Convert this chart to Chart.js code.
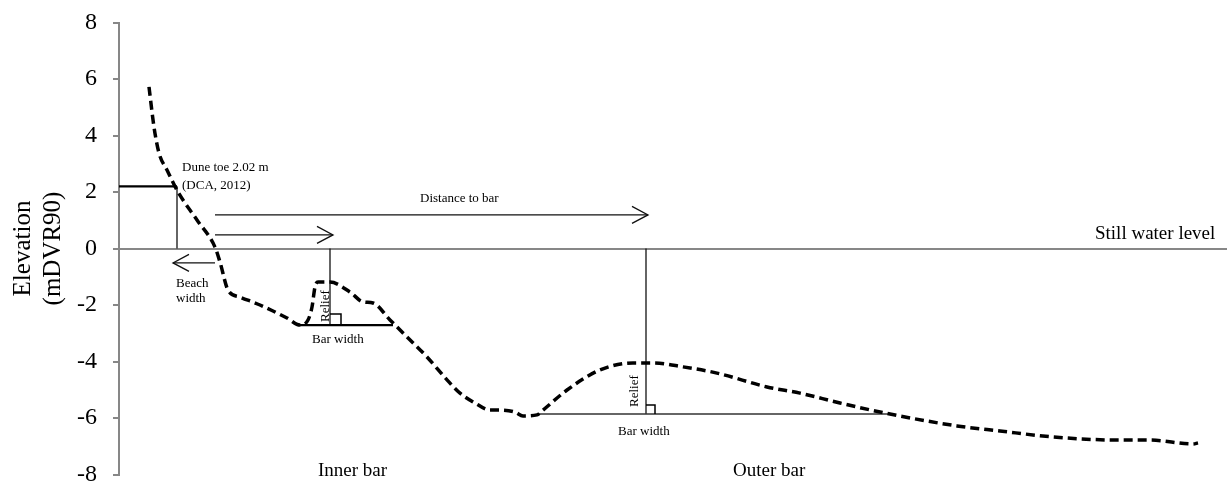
<!DOCTYPE html>
<html>
<head>
<meta charset="utf-8">
<script src="https://cdn.jsdelivr.net/npm/chart.js@4.4.1/dist/chart.umd.min.js"></script>
<style>
  html, body { margin: 0; padding: 0; background: #fff; }
  #wrap { width: 1227px; height: 484px; position: relative; }
</style>
</head>
<body>
<div id="wrap"><canvas id="profile_chart"></canvas></div>
<script>
// cross-shore profile: distance from the axis (m) and bed elevation (m DVR90)
var distance = [30, 35, 40, 48, 59, 78, 96, 101, 109, 121, 141, 168, 181, 189, 193, 196, 199, 211,
                231, 244, 254, 271, 288, 308, 328, 341, 356, 371, 381, 396, 404, 418, 424, 448,
                481, 514, 534, 564, 598, 648, 681, 721, 771, 838, 881, 934, 998, 1031, 1074, 1079];
var elevation = [5.72, 4.30, 3.38, 2.78, 2.00, 1.01, 0.05, -0.48, -1.47, -1.72, -2.00, -2.46, -2.71, -2.53,
                 -2.07, -1.36, -1.19, -1.19, -1.54, -1.89, -1.93, -2.53, -3.13, -3.84, -4.65, -5.12,
                 -5.47, -5.72, -5.72, -5.79, -5.93, -5.89, -5.72, -5.01, -4.30, -4.05, -4.05, -4.19,
                 -4.41, -4.90, -5.12, -5.47, -5.86, -6.28, -6.46, -6.67, -6.78, -6.78, -6.92, -6.88];
var yTicks = [8, 6, 4, 2, 0, -2, -4, -6, -8];

// profile features (same units as the data)
var duneToe = { x: 58, y: 2.2 };
var innerBar = { crest: 211, base: -2.71, from: 181, to: 274, box: 11 };
var outerBar = { crest: 527, base: -5.86, from: 418, to: 771, box: 9 };
var arrows = [
  { from: 96, to: 529, y: 1.19 },
  { from: 96, to: 214, y: 0.48 },
  { from: 96, to: 54, y: -0.51 }
];
var notes = [
  { text: 'Dune toe 2.02 m', x: 63, y: 2.73, size: 13 },
  { text: '(DCA, 2012)', x: 63, y: 2.12, size: 13 },
  { text: 'Distance to bar', x: 301, y: 1.66, size: 13 },
  { text: 'Beach', x: 57, y: -1.35, size: 13 },
  { text: 'width', x: 57, y: -1.88, size: 13 },
  { text: 'Bar width', x: 193, y: -3.33, size: 13 },
  { text: 'Relief', x: 210, y: -2.60, size: 13, rotate: true },
  { text: 'Relief', x: 519, y: -5.61, size: 13, rotate: true },
  { text: 'Bar width', x: 499, y: -6.6, size: 13 },
  { text: 'Still water level', x: 976, y: 0.34, size: 19 },
  { text: 'Inner bar', x: 199, y: -8.04, size: 19 },
  { text: 'Outer bar', x: 614, y: -8.04, size: 19 }
];

var serif = '"Liberation Serif", "Times New Roman", serif';

var annotate = {
  id: 'annotate',
  beforeDatasetsDraw: function (chart) {
    var ctx = chart.ctx, xs = chart.scales.x, ys = chart.scales.y;
    function px(v) { return xs.getPixelForValue(v); }
    function py(v) { return ys.getPixelForValue(v); }
    function seg(x1, y1, x2, y2, w, col) {
      ctx.beginPath();
      ctx.lineWidth = w;
      ctx.strokeStyle = col;
      ctx.moveTo(x1, y1);
      ctx.lineTo(x2, y2);
      ctx.stroke();
    }
    ctx.save();
    ctx.lineCap = 'butt';

    // dune toe
    seg(px(0), py(duneToe.y), px(duneToe.x), py(duneToe.y), 2.3, '#000');
    seg(px(duneToe.x), py(duneToe.y), px(duneToe.x), py(0), 1.3, '#111');

    // bars: relief line, bar width line, right angle mark
    [innerBar, outerBar].forEach(function (b, i) {
      var cx = px(b.crest), by = py(b.base);
      seg(cx, py(0), cx, by, 1.3, '#111');
      seg(px(b.from), by, px(b.to), by, i === 0 ? 2.3 : 1.4, i === 0 ? '#000' : '#333');
      ctx.beginPath();
      ctx.lineWidth = 1.5;
      ctx.strokeStyle = '#000';
      ctx.moveTo(cx, by - b.box);
      ctx.lineTo(cx + b.box, by - b.box);
      ctx.lineTo(cx + b.box, by);
      ctx.stroke();
    });

    // arrows with open heads
    arrows.forEach(function (a) {
      var x1 = px(a.from), x2 = px(a.to), y = py(a.y);
      var dir = x2 > x1 ? 1 : -1;
      seg(x1, y, x2, y, 1.3, '#111');
      ctx.beginPath();
      ctx.lineWidth = 1.3;
      ctx.moveTo(x2 - dir * 16, y - 8.5);
      ctx.lineTo(x2, y);
      ctx.lineTo(x2 - dir * 16, y + 8.5);
      ctx.stroke();
    });
    ctx.restore();
  },
  afterDatasetsDraw: function (chart) {
    var ctx = chart.ctx, xs = chart.scales.x, ys = chart.scales.y;
    ctx.save();
    ctx.fillStyle = '#000';
    ctx.textAlign = 'left';
    ctx.textBaseline = 'alphabetic';
    notes.forEach(function (n) {
      ctx.font = n.size + 'px ' + serif;
      var x = xs.getPixelForValue(n.x), y = ys.getPixelForValue(n.y);
      if (n.rotate) {
        ctx.save();
        ctx.translate(x, y);
        ctx.rotate(-Math.PI / 2);
        ctx.fillText(n.text, 0, 0);
        ctx.restore();
      } else {
        ctx.fillText(n.text, x, y);
      }
    });
    ctx.restore();
  }
};

var c1 = document.getElementById('profile_chart').getContext('2d');

var profile_chart = new Chart(c1, {
  type: 'line',
  data: {
    datasets: [{
      label: 'Profile',
      data: distance.map(function (d, i) { return { x: d, y: elevation[i] }; }),
      borderColor: '#000',
      borderWidth: 3.5,
      borderDash: [9, 5],
      cubicInterpolationMode: 'monotone',
      pointRadius: 0,
      fill: false
    }]
  },
  options: {
    responsive: true,
    maintainAspectRatio: false,
    animation: false,
    layout: { padding: { top: 22.5, bottom: 9.5, left: 0, right: 0 } },
    plugins: {
      legend: { display: false },
      tooltip: { enabled: false }
    },
    scales: {
      x: { type: 'linear', min: 0, max: 1108, display: false },
      y: {
        min: -8,
        max: 8,
        afterBuildTicks: function (s) { s.ticks = yTicks.map(function (v) { return { value: v }; }); },
        afterFit: function (s) { s.width = 119; s.paddingTop = 0; s.paddingBottom = 0; },
        border: { color: '#878787', width: 2 },
        grid: {
          color: function (c) { return c.tick && c.tick.value === 0 ? '#878787' : 'rgba(0,0,0,0)'; },
          lineWidth: 2,
          tickLength: 6,
          tickColor: '#878787',
          tickWidth: 2
        },
        ticks: { padding: 16, color: '#000', font: { family: serif, size: 24 } },
        title: {
          display: true,
          text: ['Elevation', '(mDVR90)'],
          color: '#000',
          font: { family: serif, size: 25, lineHeight: 1.2 },
          padding: { top: 8.6, bottom: 0 }
        }
      }
    }
  },
  plugins: [annotate]
});
</script>
</body>
</html>
